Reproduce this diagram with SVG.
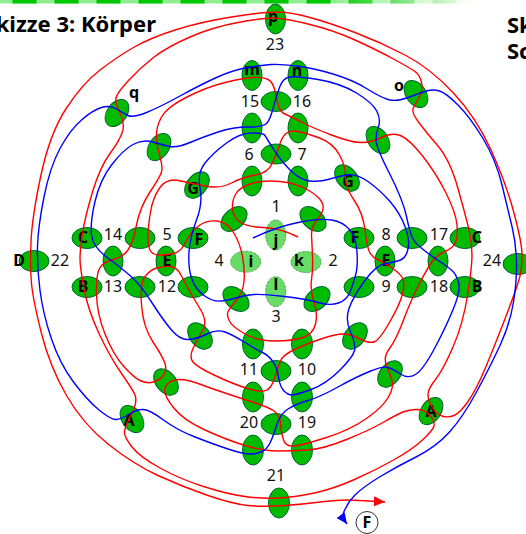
<svg xmlns="http://www.w3.org/2000/svg" width="526" height="534" viewBox="0 0 526 534">
<style>
.n{fill:#00bb00;stroke:#063;stroke-width:1}
.li{fill:#66dd66;stroke:#55aa55;stroke-width:1;stroke-dasharray:3 1}
.t{font-family:"Noto Sans","DejaVu Sans",sans-serif;font-size:16px;fill:#111;text-anchor:middle}
.b{font-family:"Noto Sans","DejaVu Sans",sans-serif;font-size:16px;font-weight:bold;fill:#000;text-anchor:middle}
.h{font-family:"Noto Sans","DejaVu Sans",sans-serif;font-size:22px;font-weight:bold;fill:#000}
.r{fill:none;stroke:#f00;stroke-width:1.4}
.bl{fill:none;stroke:#00f;stroke-width:1.4}
</style>
<defs>
<linearGradient id="fade" x1="0" x2="1" y1="0" y2="0"><stop offset="0" stop-color="#fff" stop-opacity="0"/><stop offset="1" stop-color="#fff"/></linearGradient>
<marker id="ar" markerUnits="userSpaceOnUse" markerWidth="14" markerHeight="14" refX="11" refY="5" orient="auto-start-reverse"><path d="M0 0L11 5L0 10Z" fill="#f00"/></marker>
<marker id="ab" markerUnits="userSpaceOnUse" markerWidth="14" markerHeight="14" refX="11" refY="5" orient="auto-start-reverse"><path d="M0 0L11 5L0 10Z" fill="#00f"/></marker>
</defs>
<g id="band">
<rect x="0" y="0" width="480" height="3.5" fill="#90ee90"/>
<line x1="12.5" y1="1.75" x2="480" y2="1.75" stroke="#00c800" stroke-width="3.5" stroke-dasharray="24 18"/>
<rect x="330" y="0" width="146" height="4" fill="url(#fade)"/>
<rect x="476" y="0" width="50" height="4" fill="#fff"/>
</g>
<text class="h" x="156" y="32" text-anchor="end">kizze 3: Körper</text>
<text class="h" x="507" y="33">Sk</text>
<text class="h" x="507" y="59">Sc</text>
<g id="nodes">
<g id="p"><ellipse class="n" cx="275.500" cy="19" rx="10" ry="15"/><text class="b" x="273" y="22">p</text></g>
<g id="m"><ellipse class="n" cx="252" cy="75.500" rx="10" ry="15"/><text class="b" x="252" y="75">m</text></g>
<g id="n"><ellipse class="n" cx="298" cy="75.500" rx="10" ry="15"/><text class="b" x="297" y="76">n</text></g>
<g id="n15"><ellipse class="n" cx="252" cy="128" rx="10" ry="15"/></g>
<g id="n16"><ellipse class="n" cx="276" cy="101.500" rx="15" ry="10"/></g>
<g id="n16b"><ellipse class="n" cx="298" cy="128" rx="10" ry="15"/></g>
<g id="n6"><ellipse class="n" cx="276" cy="154" rx="15" ry="10"/></g>
<g id="n6b"><ellipse class="n" cx="252" cy="181" rx="10" ry="15"/></g>
<g id="n7"><ellipse class="n" cx="298" cy="181" rx="10" ry="15"/></g>
<g id="q"><ellipse class="n" cx="117" cy="113" rx="15" ry="10" transform="rotate(-55 117 113)"/><text class="b" x="134" y="98">q</text></g>
<g id="d1"><ellipse class="n" cx="159" cy="147" rx="15" ry="10" transform="rotate(-55 159 147)"/></g>
<g id="G1"><ellipse class="n" cx="197" cy="185" rx="15" ry="10" transform="rotate(-50 197 185)"/><text class="b" x="193" y="194">G</text></g>
<g id="d2"><ellipse class="n" cx="234" cy="219" rx="15" ry="10" transform="rotate(-42 234 219)"/></g>
<g id="o"><ellipse class="n" cx="416" cy="94" rx="15" ry="10" transform="rotate(55 416 94)"/><text class="b" x="399" y="91">o</text></g>
<g id="d3"><ellipse class="n" cx="378" cy="140" rx="15" ry="10" transform="rotate(55 378 140)"/></g>
<g id="G2"><ellipse class="n" cx="347" cy="178" rx="15" ry="10" transform="rotate(50 347 178)"/><text class="b" x="348" y="187">G</text></g>
<g id="d4"><ellipse class="n" cx="313" cy="219" rx="15" ry="10" transform="rotate(42 313 219)"/></g>
<g id="d5"><ellipse class="n" cx="236" cy="299" rx="15" ry="10" transform="rotate(42 236 299)"/></g>
<g id="d6"><ellipse class="n" cx="200" cy="336" rx="15" ry="10" transform="rotate(50 200 336)"/></g>
<g id="d7"><ellipse class="n" cx="166" cy="382" rx="15" ry="10" transform="rotate(50 166 382)"/></g>
<g id="A1"><ellipse class="n" cx="132" cy="419" rx="15" ry="10" transform="rotate(55 132 419)"/><text class="b" x="129" y="426">A</text></g>
<g id="d8"><ellipse class="n" cx="317" cy="299" rx="15" ry="10" transform="rotate(-42 317 299)"/></g>
<g id="d9"><ellipse class="n" cx="355" cy="336" rx="15" ry="10" transform="rotate(-50 355 336)"/></g>
<g id="d10"><ellipse class="n" cx="390" cy="374" rx="15" ry="10" transform="rotate(-50 390 374)"/></g>
<g id="A2"><ellipse class="n" cx="431" cy="411" rx="15" ry="10" transform="rotate(-55 431 411)"/><text class="b" x="431" y="417">A</text></g>
<g id="C1"><ellipse class="n" cx="87" cy="238" rx="15" ry="10.500"/><text class="b" x="83" y="243">C</text></g>
<g id="n14"><ellipse class="n" cx="140" cy="238" rx="15" ry="10.500"/></g>
<g id="F1"><ellipse class="n" cx="193" cy="238" rx="15" ry="10.500"/><text class="b" x="199" y="245">F</text></g>
<g id="n13a"><ellipse class="n" cx="113" cy="261" rx="10" ry="15"/></g>
<g id="E1"><ellipse class="n" cx="166" cy="261" rx="10" ry="15"/><text class="b" x="167" y="266">E</text></g>
<g id="B1"><ellipse class="n" cx="87" cy="287" rx="15" ry="10.500"/><text class="b" x="83" y="292">B</text></g>
<g id="n13"><ellipse class="n" cx="140" cy="287" rx="15" ry="10.500"/></g>
<g id="n12"><ellipse class="n" cx="193" cy="287" rx="15" ry="10.500"/></g>
<g id="D"><ellipse class="n" cx="34" cy="261" rx="15" ry="10.500"/><text class="b" x="19" y="266">D</text></g>
<g id="F2"><ellipse class="n" cx="359" cy="238" rx="15" ry="10.500"/><text class="b" x="355" y="243">F</text></g>
<g id="n8"><ellipse class="n" cx="412" cy="238" rx="15" ry="10.500"/></g>
<g id="C2"><ellipse class="n" cx="465" cy="238" rx="15" ry="10.500"/><text class="b" x="477" y="243">C</text></g>
<g id="E2"><ellipse class="n" cx="385" cy="261" rx="10" ry="15"/><text class="b" x="386" y="266">E</text></g>
<g id="n17"><ellipse class="n" cx="438" cy="261" rx="10" ry="15"/></g>
<g id="n24"><ellipse class="n" cx="518" cy="264" rx="15" ry="10.500"/></g>
<g id="n9"><ellipse class="n" cx="359" cy="287" rx="15" ry="10.500"/></g>
<g id="n18"><ellipse class="n" cx="412" cy="287" rx="15" ry="10.500"/></g>
<g id="B2"><ellipse class="n" cx="465" cy="287" rx="15" ry="10.500"/><text class="b" x="477" y="292">B</text></g>
<g id="i"><ellipse class="li" cx="245.700" cy="261.700" rx="15" ry="10.500"/><text class="b" x="251" y="267">i</text></g>
<g id="k"><ellipse class="li" cx="306" cy="262" rx="15" ry="10.500"/><text class="b" x="299" y="266">k</text></g>
<g id="j"><ellipse class="li" cx="275.700" cy="235" rx="10" ry="15"/><text class="b" x="276" y="246">j</text></g>
<g id="l"><ellipse class="li" cx="275.700" cy="291.700" rx="10" ry="15"/><text class="b" x="276" y="290">l</text></g>
<g id="n11"><ellipse class="n" cx="253" cy="344" rx="10.500" ry="15"/></g>
<g id="n10"><ellipse class="n" cx="302" cy="344" rx="10.500" ry="15"/></g>
<g id="n10b"><ellipse class="n" cx="276" cy="371" rx="15" ry="10.500"/></g>
<g id="n20"><ellipse class="n" cx="253" cy="397" rx="10.500" ry="15"/></g>
<g id="n19"><ellipse class="n" cx="302" cy="397" rx="10.500" ry="15"/></g>
<g id="n19b"><ellipse class="n" cx="276" cy="424" rx="15" ry="10.500"/></g>
<g id="n20b"><ellipse class="n" cx="253" cy="450" rx="10.500" ry="15"/></g>
<g id="n19c"><ellipse class="n" cx="302" cy="450" rx="10.500" ry="15"/></g>
<g id="n21"><ellipse class="n" cx="279" cy="503" rx="10.500" ry="15"/></g>
<g id="Fc"><circle cx="367" cy="522.500" r="11" fill="#fff" stroke="#333"/><text class="b" x="367" y="528">F</text></g>
</g>
<g id="connectors">
<path class="r" marker-start="url(#ar)" d="M385 502L360 500.500Q343 499 324.500 501.500Q306 504 284.500 505.500Q263 507 248 505.500Q233 504 208 495.500Q183 487 158 475.500Q133 464 108 444Q83 424 66.500 395.500Q50 367 41.500 333.500Q33 300 31.500 283.500Q30 267 31 242Q32 217 41 175Q50 133 66.500 108Q83 83 100 70Q117 57 133.500 47.500Q150 38 175 30Q200 22 231.500 17Q263 12 276.500 12Q290 12 310 17.500Q330 23 355 32.500Q380 42 405 55Q430 68 453 92.500Q476 117 491 150Q506 183 514 213Q522 243 522 255Q522 267 520 276Q518 285 505.500 317.500Q493 350 484.500 370Q476 390 468 401.500Q460 413 454 415.500Q448 418 442 416Q436 414 432 407Q428 400 428 394.500Q428 389 435.500 379.500Q443 370 453 347Q463 324 467.500 295.500Q472 267 472 255Q472 243 469 230Q466 217 458 188.500Q450 160 438 146Q426 132 418.500 122Q411 112 413.500 107.500Q416 103 419.500 96.500Q423 90 421.500 82.500Q420 75 415 71.500Q410 68 393.500 59Q377 50 355 40Q333 30 308 24Q283 18 273 18Q263 18 238 22.500Q213 27 190 37Q167 47 153.500 57.500Q140 68 128.500 80.500Q117 93 116 98Q115 103 120 113Q125 123 122.500 131.500Q120 140 110 153.500Q100 167 92.500 192Q85 217 82.500 233.500Q80 250 80 258.500Q80 267 84 288.500Q88 310 99 333.500Q110 357 121.500 373.500Q133 390 135 395Q137 400 134.500 407Q132 414 128.500 420.500Q125 427 124.500 432Q124 437 132 447Q140 457 160 468Q180 479 203.500 486.500Q227 494 245 496.500Q263 499 279.500 498Q296 497 314.500 493Q333 489 354.500 479.500Q376 470 394.500 459.500Q413 449 423 439.500Q433 430 434 426Q435 422 430.500 416Q426 410 418 409.500Q410 409 403 412Q396 415 383 422.500Q370 430 346.500 439.500Q323 449 308 450Q293 451 278 451Q263 451 245 445.500Q227 440 205 430Q183 420 173 407Q163 394 165 388Q167 382 175 380Q183 378 198 383.500Q213 389 228 394Q243 399 255.500 403Q268 407 274 411Q280 415 280.500 424Q281 433 283.500 440Q286 447 294.500 446Q303 445 326.500 437.500Q350 430 366.500 418.500Q383 407 388.500 397Q394 387 392 380.500Q390 374 386.500 365.500Q383 357 389.500 348.500Q396 340 403.500 320Q411 300 419.500 283.500Q428 267 432.500 261Q437 255 445 251.500Q453 248 455.500 242.500Q458 237 457 225Q456 213 446 193Q436 173 423 156.500Q410 140 401.500 136Q393 132 381.500 137.500Q370 143 360 142.500Q350 142 331.500 135Q313 128 302.500 122.500Q292 117 286 114.500Q280 112 278.500 106Q277 100 275 91Q273 82 268 79.500Q263 77 253 77.500Q243 78 225 82.500Q207 87 187 97Q167 107 161.500 117Q156 127 156.500 137Q157 147 160 157Q163 167 161.500 172Q160 177 150 192Q140 207 136.500 225Q133 243 128 250Q123 257 113 259.500Q103 262 99.500 268.500Q96 275 96.500 294.500Q97 314 105 334Q113 354 123 365.500Q133 377 140 380.500Q147 384 153.500 382Q160 380 163.500 375Q167 370 165 363.500Q163 357 153 342Q143 327 141.500 305Q140 283 145 276.500Q150 270 156.500 268Q163 266 170 266.500Q177 267 181 275Q185 283 189 290Q193 297 200.500 309.500Q208 322 202.500 331Q197 340 193 348.500Q189 357 193 362Q197 367 215 375.500Q233 384 247.500 388.500Q262 393 267 390Q272 387 275 377Q278 367 280.500 361Q283 355 294.500 349.500Q306 344 321 339Q336 334 343 334Q350 334 360 339Q370 344 375 341.500Q380 339 390 321.500Q400 304 402.500 294Q405 284 403 279Q401 274 392 268Q383 262 377.500 259.500Q372 257 369.500 252Q367 247 365 230Q363 213 354 200Q345 187 345.500 177Q346 167 339.500 155Q333 143 319.500 138Q306 133 298 131.500Q290 130 286 133.500Q282 137 279.500 145Q277 153 272.500 163Q268 173 255.500 175Q243 177 231.500 183Q220 189 205 186Q190 183 178.500 180.500Q167 178 160 187.500Q153 197 150.500 212Q148 227 148 237Q148 247 150.500 251Q153 255 160 255Q167 255 173.500 253.500Q180 252 184 245Q188 238 190.500 234Q193 230 200 225Q207 220 217 221Q227 222 233.500 232.500Q240 243 242.500 256.500Q245 270 244 281.500Q243 293 235.500 301.500Q228 310 227.500 313.500Q227 317 230 322Q233 327 245 334Q257 341 275 341Q293 341 303 337.500Q313 334 315.500 324Q318 314 314 302Q310 290 311.500 280Q313 270 312.500 256.500Q312 243 311.500 235Q311 227 318 218.500Q325 210 322.500 203.500Q320 197 308 190Q296 183 279.500 181.500Q263 180 251.500 183.500Q240 187 236 193.500Q232 200 232.500 208.500Q233 217 240 222Q247 227 263.500 227.500Q280 228 298 237"/>
<path class="bl" marker-start="url(#ab)" d="M347 524L342 517Q346 504 354.500 495.500Q363 487 379.500 477Q396 467 416 457Q436 447 449.500 432Q463 417 476.500 392Q490 367 500 345.500Q510 324 513.500 302Q517 280 516.500 261.500Q516 243 512 226.500Q508 210 502 185Q496 160 483 138.500Q470 117 458 105Q446 93 439.500 91Q433 89 426.500 91Q420 93 408 97.500Q396 102 388 99.500Q380 97 366.500 88.500Q353 80 333 74Q313 68 296.500 66Q280 64 271.500 64.500Q263 65 248 67.500Q233 70 216.500 77.500Q200 85 180 96Q160 107 146.500 112.500Q133 118 128 115.500Q123 113 116.500 109Q110 105 101.500 107.500Q93 110 81.500 120Q70 130 60 148.500Q50 167 44 197Q38 227 37.500 247Q37 267 40 290.500Q43 314 51.500 339Q60 364 73.500 382Q87 400 98.500 409.500Q110 419 115 419.500Q120 420 128.500 414.500Q137 409 143.500 409.500Q150 410 163.500 420Q177 430 195 437Q213 444 228 449Q243 454 250 454Q257 454 262 451.500Q267 449 270 443Q273 437 276.500 425.500Q280 414 288 409Q296 404 308 400.500Q320 397 338 387Q356 377 369.500 371.500Q383 366 388 367.500Q393 369 400.500 374Q408 379 415.500 374.500Q423 370 434.500 348.500Q446 327 453.500 308.500Q461 290 458.500 282Q456 274 452 270.500Q448 267 439 261Q430 255 422.500 249Q415 243 412.500 238Q410 233 406.500 216.500Q403 200 389.500 173.500Q376 147 376 140Q376 133 378.500 126.500Q381 120 377 111.500Q373 103 356.500 93Q340 83 318 79.500Q296 76 289.500 77Q283 78 279.500 87.500Q276 97 273 108.500Q270 120 266.500 123.500Q263 127 248 127Q233 127 218 132Q203 137 190 142.500Q177 148 170 146.500Q163 145 153 142Q143 139 133 144.500Q123 150 111.500 165Q100 180 95 201.500Q90 223 91.500 235Q93 247 106.500 257Q120 267 130 275.500Q140 284 151.500 302Q163 320 171.500 330Q180 340 188.500 339.500Q197 339 207 334Q217 329 225 332Q233 335 245 342.500Q257 350 262.500 352.500Q268 355 272.500 361Q277 367 278.500 377Q280 387 284 391Q288 395 292 395Q296 395 311 389.500Q326 384 339.500 370.500Q353 357 354.500 350.500Q356 344 350.500 332Q345 320 349 308.500Q353 297 364.500 281Q376 265 385.500 263.500Q395 262 400.500 260Q406 258 408 249Q410 240 405 226.500Q400 213 390 201.500Q380 190 368 181.500Q356 173 346 175Q336 177 328 179.500Q320 182 310 181Q300 180 290 170Q280 160 273 148.500Q266 137 264.500 135Q263 133 251.500 133Q240 133 226.500 143Q213 153 205 163Q197 173 200 188Q203 203 196.500 220Q190 237 189 252Q188 267 191.500 278Q195 289 204 295.500Q213 302 221.500 301Q230 300 237.500 297.500Q245 295 254 294.500Q263 294 284.500 296.500Q306 299 318 302.500Q330 306 338.500 303Q347 300 350 292Q353 284 355.500 275.500Q358 267 357 252Q356 237 349.500 229.500Q343 222 331.500 220Q320 218 298 222.500Q276 227 253 238"/>
</g>
<g id="labels">
<text class="t" x="275" y="50">23</text>
<text class="t" x="250" y="107">15</text>
<text class="t" x="302" y="107">16</text>
<text class="t" x="249" y="160">6</text>
<text class="t" x="302" y="160">7</text>
<text class="t" x="113" y="240">14</text>
<text class="t" x="167" y="240">5</text>
<text class="t" x="113" y="292">13</text>
<text class="t" x="167" y="292">12</text>
<text class="t" x="386" y="240">8</text>
<text class="t" x="439" y="240">17</text>
<text class="t" x="386" y="292">9</text>
<text class="t" x="439" y="292">18</text>
<text class="t" x="492" y="266">24</text>
<text class="t" x="60" y="266">22</text>
<text class="t" x="276" y="212">1</text>
<text class="t" x="333" y="266">2</text>
<text class="t" x="276" y="322">3</text>
<text class="t" x="219" y="266">4</text>
<text class="t" x="249" y="375">11</text>
<text class="t" x="307" y="375">10</text>
<text class="t" x="249" y="428">20</text>
<text class="t" x="307" y="428">19</text>
<text class="t" x="276" y="481">21</text>
</g>
</svg>
